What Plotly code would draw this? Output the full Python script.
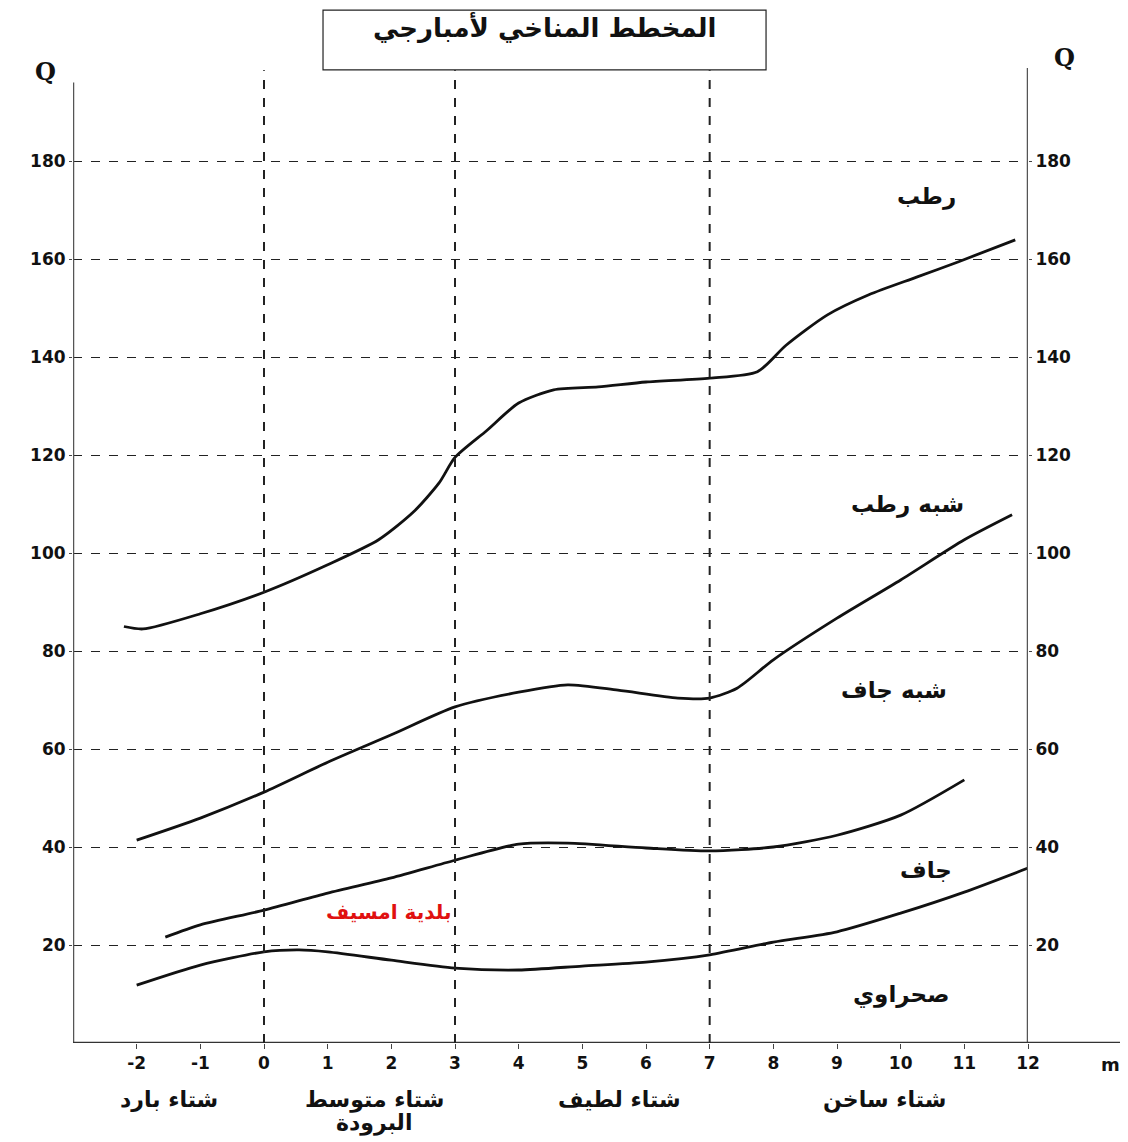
import plotly.graph_objects as go

# Emberger climagram: boundary curves (x = m, y = Q)
humid_x = [-2.2, -1.9, -1.0, 0.0, 1.0, 1.8, 2.35, 2.75, 3.0, 3.5, 4.0, 4.55, 5.25, 6.0, 7.0, 7.75, 8.2, 8.85, 9.5, 10.25, 10.9, 11.8]
humid_y = [85.0, 84.5, 87.6, 92.0, 97.6, 102.7, 108.4, 114.3, 119.5, 125.0, 130.6, 133.3, 133.9, 134.9, 135.7, 137.0, 142.4, 148.6, 152.7, 156.3, 159.4, 163.9]

subhumid_x = [-2.0, -1.0, 0.0, 1.0, 2.0, 3.0, 4.0, 4.77, 5.56, 6.5, 7.0, 7.43, 8.0, 9.0, 10.0, 11.0, 11.75]
subhumid_y = [41.4, 45.9, 51.2, 57.3, 62.9, 68.6, 71.6, 73.1, 72.0, 70.4, 70.4, 72.4, 78.2, 86.7, 94.5, 102.7, 107.8]

semiarid_x = [-1.55, -1.0, 0.0, 1.0, 2.0, 3.0, 4.0, 4.77, 6.0, 7.0, 8.0, 9.0, 10.0, 11.0]
semiarid_y = [21.6, 24.1, 27.1, 30.6, 33.7, 37.3, 40.6, 40.8, 39.8, 39.2, 40.0, 42.4, 46.5, 53.7]

arid_x = [-2.0, -1.0, 0.0, 0.55, 1.0, 2.0, 3.0, 4.0, 5.0, 6.0, 7.0, 8.0, 9.0, 10.0, 11.0, 12.0]
arid_y = [11.8, 15.9, 18.6, 19.0, 18.6, 16.9, 15.3, 14.9, 15.7, 16.5, 18.0, 20.6, 22.7, 26.5, 30.8, 35.7]

q_ticks = [20, 40, 60, 80, 100, 120, 140, 160, 180]
m_ticks = [-2, -1, 0, 1, 2, 3, 4, 5, 6, 7, 8, 9, 10, 11, 12]
winter_lines = [0, 3, 7]

zone_labels = ["رطب", "شبه رطب", "شبه جاف", "جاف", "صحراوي"]
zone_x = [10.4, 10.1, 9.9, 10.4, 10.0]
zone_y = [172.7, 110.0, 72.0, 35.3, 9.8]

winter_labels = ["شتاء بارد", "شتاء متوسط", "شتاء لطيف", "شتاء ساخن"]
winter_x = [-1.5, 1.73, 5.58, 9.74]
winter_second_line = "البرودة"

station_label = "بلدية امسيف"
station_x = 1.96
station_y = 26.7

title_text = "المخطط المناخي لأمبارجي"

AR_FONT = "DejaVu Sans"
fig = go.Figure()

for xs, ys in [(humid_x, humid_y), (subhumid_x, subhumid_y), (semiarid_x, semiarid_y), (arid_x, arid_y)]:
    fig.add_trace(go.Scatter(x=xs, y=ys, mode="lines",
                             line=dict(color="#111", width=2.8, shape="spline", smoothing=0.7),
                             hoverinfo="skip"))

# invisible trace for the right axis
fig.add_trace(go.Scatter(x=[-3, 12], y=[0, 200], yaxis="y2", mode="markers",
                         marker=dict(opacity=0), hoverinfo="skip"))

tickfont = dict(family="DejaVu Sans", size=17, color="#111", weight="bold")

fig.update_layout(
    width=1128, height=1142,
    margin=dict(l=65, r=108, t=55, b=107),
    plot_bgcolor="white", paper_bgcolor="white",
    showlegend=False,
    xaxis=dict(range=[-3, 12], tickvals=m_ticks, ticktext=[str(v) for v in m_ticks],
               showgrid=False, zeroline=False, showline=False,
               ticks="outside", ticklen=5, tickcolor="#444", tickfont=tickfont),
    yaxis=dict(range=[0, 200], tickvals=q_ticks, showgrid=True, gridcolor="#222",
               griddash="dash", gridwidth=1, zeroline=False, showline=False,
               ticks="outside", ticklen=3, tickcolor="#444", tickfont=tickfont),
    yaxis2=dict(range=[0, 200], tickvals=q_ticks, overlaying="y", side="right",
                showgrid=False, zeroline=False, showline=False,
                ticks="outside", ticklen=3, tickcolor="#444", tickfont=tickfont),
)

shapes = []
# axis lines
shapes.append(dict(type="line", xref="x", yref="y", x0=-3, x1=-3, y0=0, y1=196, line=dict(color="#555", width=2.5)))
shapes.append(dict(type="line", xref="x", yref="y", x0=12, x1=12, y0=0, y1=199, line=dict(color="#555", width=2.5)))
shapes.append(dict(type="line", xref="paper", yref="y", x0=0, x1=1.12, y0=0, y1=0, line=dict(color="#333", width=2.5)))
# winter class separators
for xv in winter_lines:
    shapes.append(dict(type="line", xref="x", yref="y", x0=xv, x1=xv, y0=0, y1=198.5,
                       line=dict(color="#222", width=2, dash="dash")))
# title box
shapes.append(dict(type="rect", xref="paper", yref="paper", x0=0.2618, x1=0.7257, y0=0.993, y1=1.054,
                   line=dict(color="#222", width=1.2), fillcolor="white"))
fig.update_layout(shapes=shapes)

C = dict(xanchor="center", yanchor="middle", showarrow=False)
ann = []
ann.append(dict(text=title_text, xref="paper", yref="paper", x=0.494, y=1.036,
                font=dict(family=AR_FONT, size=26, color="#111", weight="bold"), **C))
for t, xv, yv in zip(zone_labels, zone_x, zone_y):
    ann.append(dict(text=t, x=xv, y=yv, xref="x", yref="y",
                    font=dict(family=AR_FONT, size=23, color="#111", weight="bold"), **C))
wfont = dict(family=AR_FONT, size=22, color="#111", weight="bold")
for t, xv in zip(winter_labels, winter_x):
    ann.append(dict(text=t, x=xv, y=-0.058, xref="x", yref="paper", font=wfont, **C))
ann.append(dict(text=winter_second_line, x=winter_x[1], y=-0.0815, xref="x", yref="paper",
                font=wfont, **C))
ann.append(dict(text=station_label, x=station_x, y=station_y, xref="x", yref="y",
                font=dict(family=AR_FONT, size=20, color="#e01010", weight="bold"), **C))
ann.append(dict(text="Q", xref="paper", yref="paper", x=-0.029, y=0.991,
                font=dict(family="DejaVu Serif", size=24, color="#111", weight="bold"), **C))
ann.append(dict(text="Q", xref="paper", yref="paper", x=1.0387, y=1.006,
                font=dict(family="DejaVu Serif", size=24, color="#111", weight="bold"), **C))
ann.append(dict(text="m", xref="paper", yref="paper", x=1.086, y=-0.0224,
                font=dict(family="DejaVu Sans", size=18, color="#111", weight="bold"), **C))
fig.update_layout(annotations=ann)

fig.write_html("out.html")
